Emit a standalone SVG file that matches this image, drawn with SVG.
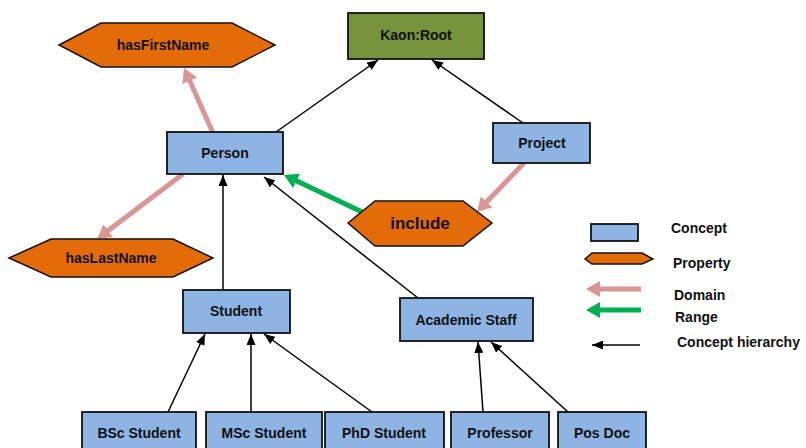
<svg xmlns="http://www.w3.org/2000/svg" width="806" height="448" viewBox="0 0 806 448">
<defs>
<style>
.concept{fill:#8EB4E3;stroke:#111;stroke-width:1.8}
.root{fill:#77933C;stroke:#111;stroke-width:1.8}
.prop{fill:#E36C09;stroke:#111;stroke-width:1.5}
text{font-family:"Liberation Sans",Arial,sans-serif;font-weight:bold;font-size:14px;fill:#111}
.c{text-anchor:middle}
.h{stroke:#000;stroke-width:1.5;fill:none;marker-end:url(#ah)}
.d{stroke:#D99694;stroke-width:5;fill:none;marker-end:url(#ad)}
.r{stroke:#00B050;stroke-width:5;fill:none;marker-end:url(#ar)}
</style>
<marker id="ah" viewBox="0 0 11 9" markerWidth="11" markerHeight="9" refX="11" refY="4.5" orient="auto" markerUnits="userSpaceOnUse"><path d="M0,0 L11,4.5 L0,9 z" fill="#000"/></marker>
<marker id="ad" viewBox="0 0 14 16" markerWidth="14" markerHeight="16" refX="2" refY="8" orient="auto" markerUnits="userSpaceOnUse"><path d="M0,0 L14,8 L0,16 z" fill="#D99694"/></marker>
<marker id="ar" viewBox="0 0 14 16" markerWidth="14" markerHeight="16" refX="2" refY="8" orient="auto" markerUnits="userSpaceOnUse"><path d="M0,0 L14,8 L0,16 z" fill="#00B050"/></marker>
</defs>
<rect width="806" height="448" fill="#fff"/>
<g id="connectors">
<line class="h" x1="276" y1="132" x2="378" y2="60"/>
<line class="h" x1="523" y1="123" x2="432" y2="60"/>
<line class="h" x1="223" y1="290" x2="223" y2="175"/>
<line class="h" x1="418" y1="298" x2="264" y2="177"/>
<line class="h" x1="168" y1="412" x2="205" y2="334"/>
<line class="h" x1="251" y1="412" x2="251" y2="334"/>
<line class="h" x1="372" y1="412" x2="264" y2="334"/>
<line class="h" x1="483" y1="412" x2="478" y2="342"/>
<line class="h" x1="568" y1="412" x2="491" y2="342"/>
<line class="d" x1="213" y1="133" x2="188.9" y2="79"/>
<line class="d" x1="183" y1="174" x2="106.6" y2="231.8"/>
<line class="d" x1="524" y1="163" x2="485.3" y2="203.3"/>
<line class="r" x1="362" y1="212" x2="294.8" y2="180.1"/>
</g>
<g id="kaon-root"><rect class="root" x="348" y="13" width="136" height="46"/><text class="c" x="416" y="40">Kaon:Root</text></g>
<g id="hasFirstName"><polygon class="prop" points="59,45 101,23 232,23 275,45 232,67 101,67"/><text class="c" x="163" y="50">hasFirstName</text></g>
<g id="person"><rect class="concept" x="167" y="132" width="116" height="42"/><text class="c" x="225" y="158">Person</text></g>
<g id="project"><rect class="concept" x="493" y="123" width="97" height="40"/><text class="c" x="542" y="148">Project</text></g>
<g id="include"><polygon class="prop" points="348,223 375,201 463,201 492,223 463,246 375,246"/><text class="c" x="420" y="229" style="font-size:17px">include</text></g>
<g id="hasLastName"><polygon class="prop" points="9,258 51,239 173,239 213,258 173,277 51,277"/><text class="c" x="111" y="263">hasLastName</text></g>
<g id="student"><rect class="concept" x="183" y="290" width="107" height="43"/><text class="c" x="236" y="316">Student</text></g>
<g id="academic-staff"><rect class="concept" x="400" y="298" width="133" height="43"/><text class="c" x="466" y="325">Academic Staff</text></g>
<g id="bsc-student"><rect class="concept" x="82" y="412" width="114" height="48"/><text class="c" x="139" y="438">BSc Student</text></g>
<g id="msc-student"><rect class="concept" x="206" y="412" width="116" height="48"/><text class="c" x="264" y="438">MSc Student</text></g>
<g id="phd-student"><rect class="concept" x="325" y="412" width="119" height="48"/><text class="c" x="384" y="438">PhD Student</text></g>
<g id="professor"><rect class="concept" x="451" y="412" width="98" height="48"/><text class="c" x="500" y="438">Professor</text></g>
<g id="pos-doc"><rect class="concept" x="558" y="412" width="88" height="48"/><text class="c" x="602" y="438">Pos Doc</text></g>
<g id="legend">
<rect class="concept" x="591" y="224" width="47" height="17"/>
<polygon class="prop" points="585,259 592,253 642,253 653,259 642,264 592,264"/>
<line class="d" x1="641" y1="289" x2="598" y2="289"/>
<line class="r" x1="641" y1="310" x2="598" y2="310"/>
<line class="h" x1="640" y1="345" x2="592" y2="345"/>
<text x="671" y="233">Concept</text>
<text x="673" y="268">Property</text>
<text x="674" y="300">Domain</text>
<text x="675" y="322">Range</text>
<text x="677" y="347">Concept hierarchy</text>
</g>
</svg>
